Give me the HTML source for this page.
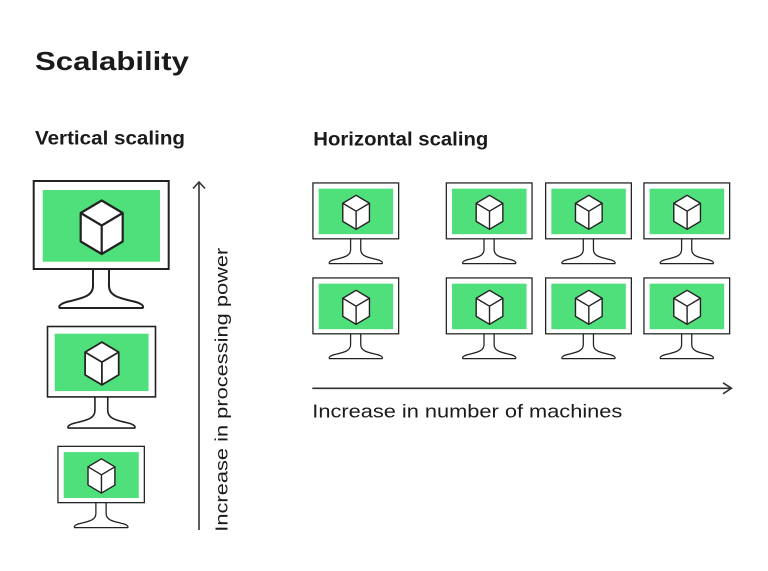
<!DOCTYPE html>
<html>
<head>
<meta charset="utf-8">
<style>
  html,body{margin:0;padding:0;background:#fff;}
  svg{display:block;}
  text{font-family:"Liberation Sans",Arial,sans-serif;fill:#1a1a1a;}
</style>
</head>
<body>
<svg width="768" height="571" viewBox="0 0 768 571" xmlns="http://www.w3.org/2000/svg">
  <defs>
    <g id="mon">
      <path d="M60.3,89 L60.3,106 C60.3,116 50,118 38,121 C28,123 25.5,126 27,128 L110,128 C111.5,126 109,123 99,121 C87,118 76.3,116 76.3,106 L76.3,89" fill="#fff" stroke="#222" stroke-width="2" stroke-linejoin="round"/>
      <rect x="1" y="1" width="135" height="88" fill="#fff" stroke="#222" stroke-width="2"/>
      <rect x="10" y="10" width="117.3" height="71.7" fill="#4fe07b"/>
      <path d="M69,20.5 L90,33 L90,61.5 L69,74 L48,61.5 L48,33 Z" fill="#fff" stroke="#222" stroke-width="2.2" stroke-linejoin="round"/>
      <path d="M48,33 L69,45.5 L90,33 M69,45.5 L69,74" fill="none" stroke="#222" stroke-width="2.2" stroke-linejoin="round"/>
    </g>
  </defs>

  <!-- Titles -->
  <text x="35" y="70" font-size="26" font-weight="bold" textLength="154" lengthAdjust="spacingAndGlyphs">Scalability</text>
  <text x="35" y="144.3" font-size="19" font-weight="bold" textLength="150" lengthAdjust="spacingAndGlyphs">Vertical scaling</text>
  <text x="313.3" y="145.7" font-size="19" font-weight="bold" textLength="175" lengthAdjust="spacingAndGlyphs">Horizontal scaling</text>

  <!-- Vertical scaling monitors -->
  <use href="#mon" transform="translate(32.7,180) scale(1)"/>
  <use href="#mon" transform="translate(46.7,325.7) scale(0.8)"/>
  <use href="#mon" transform="translate(57.3,445.7) scale(0.64)"/>

  <!-- Vertical arrow -->
  <line x1="199" y1="182" x2="199" y2="530" stroke="#333" stroke-width="1.6"/>
  <polyline points="193,188.5 199,182 205,188.5" fill="none" stroke="#333" stroke-width="1.6" stroke-linejoin="miter"/>
  <text transform="translate(227.3,531.7) rotate(-90)" font-size="17.5" textLength="284" lengthAdjust="spacingAndGlyphs">Increase in processing power</text>

  <!-- Horizontal scaling monitors -->
  <use href="#mon" transform="translate(312.3,182.3) scale(0.635)"/>
  <use href="#mon" transform="translate(445.7,182.3) scale(0.635)"/>
  <use href="#mon" transform="translate(545,182.3) scale(0.635)"/>
  <use href="#mon" transform="translate(643.3,182.3) scale(0.635)"/>
  <use href="#mon" transform="translate(312.3,277.3) scale(0.635)"/>
  <use href="#mon" transform="translate(445.7,277.3) scale(0.635)"/>
  <use href="#mon" transform="translate(545,277.3) scale(0.635)"/>
  <use href="#mon" transform="translate(643.3,277.3) scale(0.635)"/>

  <!-- Horizontal arrow -->
  <line x1="312.3" y1="388.3" x2="731" y2="388.3" stroke="#333" stroke-width="1.6"/>
  <polyline points="723,382.8 731.5,388.3 723,393.8" fill="none" stroke="#333" stroke-width="1.6"/>
  <text x="312.3" y="417.7" font-size="18" textLength="310" lengthAdjust="spacingAndGlyphs">Increase in number of machines</text>
</svg>
</body>
</html>
